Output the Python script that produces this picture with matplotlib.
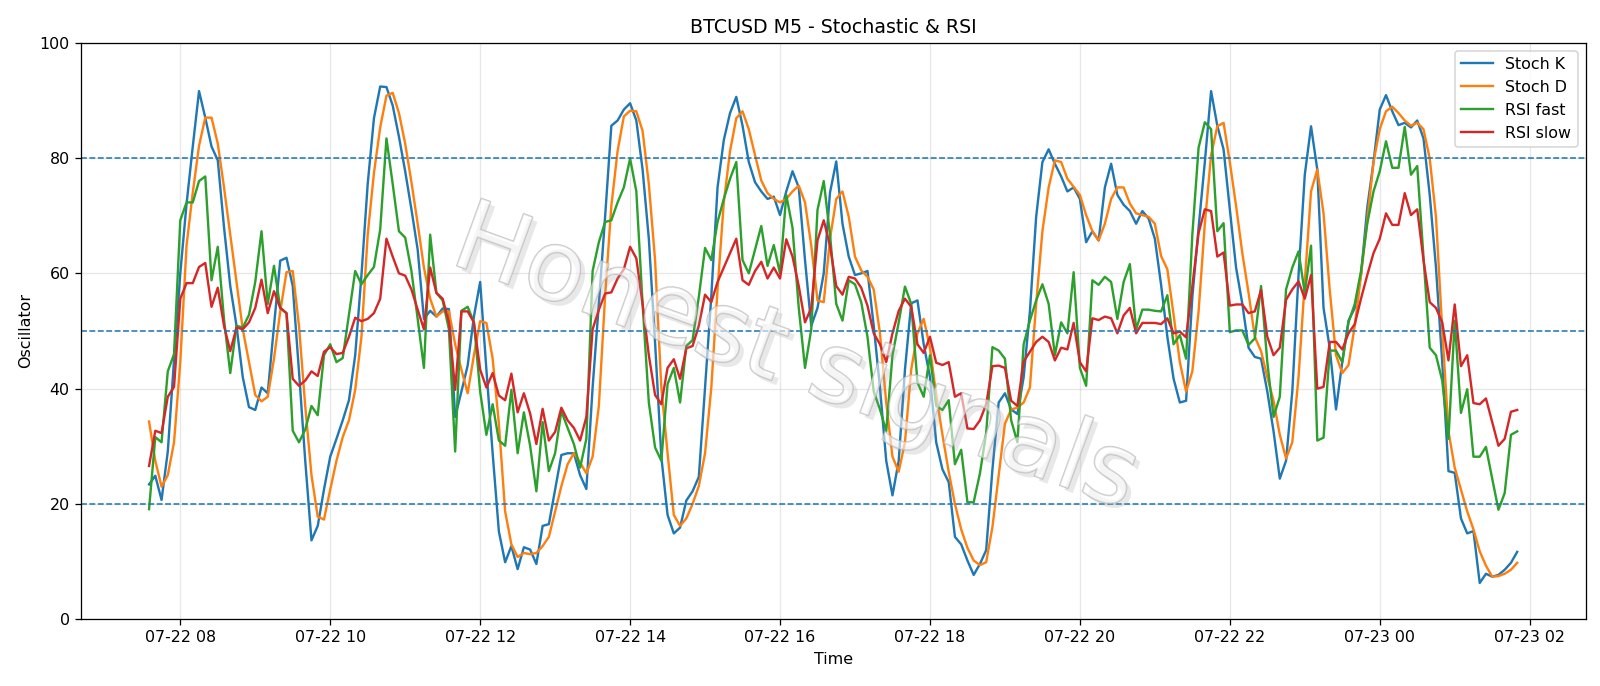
import numpy as np
import pandas as pd
import matplotlib
matplotlib.use("Agg")
import matplotlib.pyplot as plt
import matplotlib.dates as mdates
import matplotlib.patheffects as pe

# 5 minute bars, 07-22 07:35 -> 07-23 01:50
times = pd.date_range("2025-07-22 07:35", periods=220, freq="5min")

stoch_k = [
    23.4, 24.9, 20.7, 29.1, 45, 60, 72, 82, 91.6, 87,
    82, 79.6, 68, 57.8, 50.9, 42, 36.8, 36.3, 40.2, 39.2,
    50.9, 62.2, 62.7, 57.8, 43, 27.5, 13.7, 16.2, 22.5, 28.2,
    31.3, 34.5, 38.0, 45.8, 59.7, 75.5, 86.9, 92.4, 92.3, 89.1,
    83.7, 77.7, 71.1, 64.1, 52.1, 53.5, 52.5, 53.9, 53.8, 35.1,
    39.5, 44.0, 52.5, 58.5, 43.3, 28.8, 15.2, 9.9, 12.7, 8.7,
    12.5, 12.1, 9.6, 16.2, 16.5, 22.5, 28.5, 28.8, 28.8, 25.0,
    22.6, 40.2, 54.7, 69.8, 85.6, 86.5, 88.4, 89.5, 86.5, 78.0,
    66, 48, 28.2, 18.1, 14.9, 15.9, 20.6, 22.2, 24.7, 40.2,
    56.0, 74.9, 83.1, 87.8, 90.6, 85.6, 79.3, 75.8, 74.2, 72.9,
    73.3, 70.1, 74.2, 77.7, 74.9, 62.3, 50.9, 54, 60, 74,
    79.4, 68.6, 62.9, 59.7, 60.0, 60.4, 50.9, 40.2, 27.5, 21.5,
    27.5, 43.3, 54.8, 55.3, 47.7, 42.0, 30.7, 26.0, 23.8, 14.3,
    13.0, 10.2, 7.7, 9.6, 12, 26, 37.6, 39.2, 36.4, 35.6,
    42.0, 53.4, 69.8, 79.3, 81.5, 79.0, 76.8, 74.2, 74.9, 72.9,
    65.4, 67.3, 65.7, 74.9, 79.0, 73.6, 71.9, 70.8, 68.6, 70.8,
    69.5, 66.0, 58, 49.0, 41.7, 37.6, 37.9, 55.9, 67.9, 79.3,
    91.6, 85.6, 81.5, 71.1, 61.0, 54.7, 47.1, 45.5, 45.2, 39.5,
    32.6, 24.4, 27.5, 39.5, 59.7, 77.1, 85.5, 78.0, 54.0, 47,
    36.4, 44.6, 51.8, 54.0, 59.7, 71.4, 79.3, 88.4, 90.9, 88.1,
    85.7, 86.1, 85.3, 86.5, 83.4, 73.6, 61.0, 44.6, 25.7, 25.4,
    17.5, 14.9, 15.3, 6.3, 7.9, 7.4, 7.7, 8.6, 9.8, 11.7,
]

stoch_d = [
    34.3, 27.5, 23.0, 25.0, 30.7, 44.6, 64.8, 74, 82.1, 87.0,
    87.0, 82.5, 74.9, 66.7, 58.5, 50.3, 44.6, 38.9, 37.8, 38.6,
    45.2, 53.4, 60.2, 60.4, 50.9, 37.0, 25, 17.8, 17.3, 22.5,
    27.5, 31.6, 34.5, 39.8, 49.0, 66.7, 77.4, 85.3, 90.8, 91.3,
    87.8, 82.5, 75.8, 68.6, 61.0, 55.6, 52.5, 53.4, 53.4, 47.7,
    43.3, 39.2, 45.8, 51.7, 51.4, 45.2, 33.9, 18.7, 13.0, 10.8,
    11.5, 11.3, 11.5, 12.7, 14.3, 18.7, 23.1, 26.9, 28.8, 27.2,
    25.3, 28.2, 37.0, 56.0, 71.7, 81.2, 87.2, 88.2, 88.1, 84.7,
    75.5, 62.3, 40.2, 28.8, 18.1, 16.2, 17.5, 20.0, 23.1, 28.8,
    40.2, 57.2, 72.3, 81.2, 86.9, 88.1, 85.0, 80.5, 76.1, 73.9,
    72.9, 72.3, 72.9, 74.2, 75.2, 72.3, 64.8, 55.3, 55.0, 66.0,
    72.9, 74.2, 69.8, 62.9, 60.5, 59.4, 57.2, 49.6, 37.6, 28.2,
    25.6, 30.7, 43.3, 49.6, 52.1, 47.1, 38.9, 32.0, 25.6, 20.0,
    15.6, 12.4, 10.2, 9.4, 9.9, 16, 25.0, 33.9, 36.4, 36.7,
    37.6, 40.2, 54.7, 67.3, 74.9, 79.6, 79.3, 76.4, 75.0, 73.6,
    70.1, 67.3, 65.7, 68.6, 72.9, 74.9, 74.9, 72.1, 70.4, 70.1,
    69.8, 68.6, 63, 60.7, 52.8, 44.6, 39.5, 43.0, 53.4, 68.6,
    80.5, 85.5, 86.1, 79.3, 71.7, 63.5, 56.6, 49.0, 46.5, 42.0,
    37.9, 32.0, 27.9, 30.7, 42.0, 58.5, 74.2, 78.0, 70.4, 57,
    45.8, 42.7, 44.1, 50.9, 59.7, 69.2, 79.3, 85.0, 88.1, 88.9,
    87.8, 86.5, 85.6, 86.1, 85.0, 79.9, 69.8, 50.3, 32.6, 26.3,
    22.5, 18.7, 15.6, 11.8, 9.3, 7.4, 7.5, 7.9, 8.6, 9.8,
]

rsi_fast = [
    19.1, 31.6, 30.7, 43.0, 46.0, 69.2, 72.3, 72.3, 76.0, 76.8,
    58.8, 64.6, 52, 42.7, 50.9, 50.6, 52.8, 58.5, 67.3, 54.7,
    61.3, 54.0, 53.1, 32.7, 30.7, 32.9, 37.0, 35.4, 45.8, 47.7,
    44.6, 45.3, 52.8, 60.4, 58.1, 59.7, 61.1, 67.6, 83.4, 75.5,
    67.3, 66.2, 60.4, 52.1, 43.6, 66.7, 56.6, 55.3, 50.3, 29.1,
    53.5, 54.2, 51.5, 39.5, 32.0, 37.3, 31.0, 30.1, 39.8, 28.8,
    35.9, 30.1, 22.2, 34.2, 25.7, 28.8, 36.1, 33.2, 30.4, 26.3,
    31.3, 60.4, 65.4, 68.9, 69.2, 72.3, 74.9, 79.9, 74.2, 54.7,
    37.6, 29.8, 27.5, 40.8, 43.6, 37.6, 47.4, 48.4, 55.9, 64.4,
    62.3, 68.9, 72.9, 76.4, 79.3, 62.3, 60.0, 64.1, 68.2, 61.3,
    64.9, 60.0, 73.6, 67.9, 54.0, 43.6, 50.3, 71, 76.0, 66.7,
    54.7, 51.8, 58.8, 58.1, 55.0, 49.0, 39.5, 36.4, 32.6, 45.8,
    51.5, 57.7, 54.7, 41.1, 38.6, 45.8, 37.0, 36.3, 38.0, 26.9,
    29.4, 20.3, 20.3, 25.3, 32.3, 47.2, 46.6, 45.2, 34.5, 30.7,
    47.7, 51.8, 55.3, 58.1, 54.7, 45.8, 51.5, 49.6, 60.2, 43.6,
    40.5, 58.8, 58.0, 59.4, 58.5, 52.1, 58.5, 61.6, 50.3, 53.7,
    53.7, 53.5, 53.4, 56.2, 47.7, 49.3, 45.2, 66.7, 81.8, 86.2,
    85.0, 67.3, 68.7, 49.8, 50.1, 50.1, 47.6, 48.7, 57.8, 44.6,
    35.1, 38.6, 57.2, 61.0, 63.8, 56.6, 64.8, 31.0, 31.5, 46.6,
    46.6, 44.6, 51.5, 54.7, 60.4, 68.6, 74.2, 77.7, 82.9, 78.3,
    78.3, 85.4, 77.1, 78.6, 62.9, 47.1, 45.8, 41.4, 31.3, 51.8,
    35.8, 39.9, 28.2, 28.2, 29.9, 24.4, 19.0, 21.9, 32.0, 32.6,
]

rsi_slow = [
    26.6, 32.7, 32.3, 38.6, 40.3, 55.6, 58.3, 58.3, 61.1, 61.8,
    54.2, 57.5, 50.9, 46.5, 50.6, 50.3, 51.5, 54.0, 58.9, 53.1,
    56.9, 54.0, 53.1, 41.7, 40.5, 41.4, 43.0, 42.2, 46.4, 47.2,
    46.0, 46.2, 49.0, 52.3, 51.7, 52.1, 53.1, 55.6, 66.0, 62.9,
    60.0, 59.6, 57.2, 53.7, 50.3, 61.0, 56.6, 55.6, 51.5, 39.8,
    53.4, 53.4, 51.5, 43.3, 40.2, 42.7, 38.8, 38.0, 42.6, 35.9,
    39.2, 35.7, 30.4, 36.5, 31.0, 32.5, 36.7, 34.5, 33.2, 31.0,
    35.1, 50.3, 53.7, 56.5, 56.7, 59.1, 60.7, 64.6, 62.6, 54.7,
    45.8, 38.9, 37.3, 43.6, 45.1, 41.7, 47.0, 47.4, 50.9, 56.3,
    55.0, 58.5, 61.0, 63.5, 66.0, 58.8, 58.0, 60.4, 62.0, 59.1,
    61.0, 59.1, 65.9, 62.9, 57.8, 51.5, 54.0, 65.7, 69.2, 64.8,
    57.8, 56.3, 59.4, 59.1, 57.5, 54.4, 49.6, 47.7, 44.6, 49.6,
    53.5, 55.6, 54.2, 47.7, 46.2, 49.0, 44.5, 44.1, 44.6, 38.6,
    39.2, 33.1, 33.0, 34.5, 37.3, 43.9, 44, 43.6, 37.9, 37.0,
    44.7, 46.4, 48.1, 49.0, 48.1, 44.9, 47.1, 46.8, 51.4, 44.6,
    43.0, 52.2, 51.9, 52.5, 52.2, 49.6, 52.7, 54.0, 49.6, 51.4,
    51.4, 51.4, 51.2, 52.2, 49.6, 49.9, 48.9, 57.8, 67.0, 71.1,
    70.8, 62.9, 63.6, 54.4, 54.6, 54.6, 53.1, 53.4, 57.1, 49.0,
    45.8, 47.1, 55.4, 57.2, 58.6, 55.6, 59.7, 40.0, 40.3, 48.1,
    48.1, 46.8, 49.6, 51.2, 55.6, 59.7, 63.5, 66.0, 70.4, 68.4,
    68.4, 73.9, 70.1, 71.1, 62.3, 55.0, 54.0, 51.5, 44.9, 54.6,
    43.9, 45.8, 37.5, 37.3, 38.3, 34.2, 30.1, 31.3, 36.0, 36.3,
]

levels = [20, 50, 80]

fig = plt.figure(figsize=(14, 6.0025), dpi=1600 / 14)
ax = fig.add_axes([0.0504, 0.0972, 0.9406, 0.8406])

ax.plot(times, stoch_k, label="Stoch K")
ax.plot(times, stoch_d, label="Stoch D")
ax.plot(times, rsi_fast, label="RSI fast")
ax.plot(times, rsi_slow, label="RSI slow")

for lv in levels:
    ax.axhline(lv, color="#1f77b4", linestyle="--", linewidth=1)

ax.set_ylim(0, 100)
ax.xaxis.set_major_locator(mdates.HourLocator(interval=2))
ax.xaxis.set_major_formatter(mdates.DateFormatter("%m-%d %H"))
ax.grid(True, alpha=0.3)
ax.set_title("BTCUSD M5 - Stochastic & RSI")
ax.set_xlabel("Time")
ax.set_ylabel("Oscillator")
ax.legend(loc="upper right")

# watermark: hollow grey letters with a soft shadow
ax.text(0.475, 0.45, "Honest signals", transform=ax.transAxes,
        fontsize=62, rotation=-20, ha="center", va="center",
        color=(1, 1, 1, 0.35), zorder=5,
        path_effects=[pe.SimplePatchShadow(offset=(3, -3), shadow_rgbFace="#9a9a9a", alpha=0.22),
                      pe.Stroke(linewidth=1.0, foreground=(0.7, 0.7, 0.7, 0.7)),
                      pe.Normal()])

fig.savefig("out.png")
